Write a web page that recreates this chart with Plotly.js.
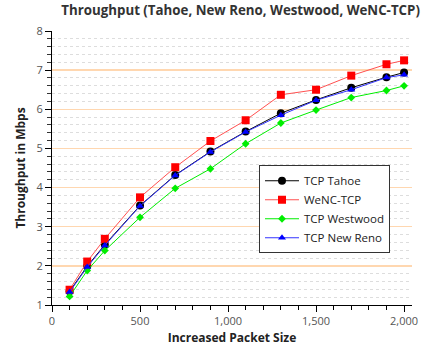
<!DOCTYPE html>
<html>
<head>
<meta charset="utf-8">
<script src="https://cdn.plot.ly/plotly-3.0.1.min.js"></script>
<style>html,body{margin:0;padding:0;background:#fff;}#chart{width:432px;height:356px;}</style>
</head>
<body>
<div id="chart"></div>
<script>
var packetSizes = [100, 200, 300, 500, 700, 900, 1100, 1300, 1500, 1700, 1900, 2000];
var tahoe    = [1.35, 1.99, 2.54, 3.54, 4.32, 4.92, 5.43, 5.90, 6.24, 6.55, 6.82, 6.94];
var wenc     = [1.39, 2.11, 2.69, 3.75, 4.52, 5.19, 5.72, 6.37, 6.50, 6.86, 7.15, 7.25];
var westwood = [1.22, 1.88, 2.39, 3.24, 3.98, 4.48, 5.12, 5.65, 5.98, 6.30, 6.48, 6.60];
var newreno  = [1.33, 1.97, 2.52, 3.53, 4.31, 4.91, 5.42, 5.85, 6.23, 6.50, 6.81, 6.88];
var seriesNames = ["TCP Tahoe", "WeNC-TCP", "TCP Westwood", "TCP New Reno"];
var xTickVals = [0, 500, 1000, 1500, 2000];
var xTickText = ["0", "500", "1,000", "1,500", "2,000"];

var font = "'Open Sans', 'DejaVu Sans', sans-serif";
var traces = [
  {x: packetSizes, y: tahoe, name: seriesNames[0], mode: "lines+markers",
   line: {color: "#000000", width: 1}, marker: {symbol: "circle", size: 8, color: "#000000"}},
  {x: packetSizes, y: wenc, name: seriesNames[1], mode: "lines+markers",
   line: {color: "#ff5050", width: 1}, marker: {symbol: "square", size: 8, color: "#ff0000"}},
  {x: packetSizes, y: westwood, name: seriesNames[2], mode: "lines+markers",
   line: {color: "#00ee00", width: 1}, marker: {symbol: "diamond", size: 6, color: "#00ee00"}},
  {x: packetSizes, y: newreno, name: seriesNames[3], mode: "lines+markers",
   line: {color: "#3333ff", width: 1}, marker: {symbol: "triangle-up", size: 7, color: "#0000ff"}}
];

var layout = {
  width: 432, height: 356,
  margin: {l: 52, r: 20, t: 31, b: 51},
  paper_bgcolor: "#fff", plot_bgcolor: "#fff",
  font: {family: font, size: 11, color: "#555"},
  title: {text: "Throughput (Tahoe, New Reno, Westwood, WeNC-TCP)", x: 0.557, xanchor: "center", y: 0.985, yanchor: "top",
          font: {family: font, size: 13.3, color: "#333", weight: "bold"}},
  xaxis: {
    range: [0, 2045], tickvals: xTickVals, ticktext: xTickText,
    showgrid: false, zeroline: false, showline: true, linecolor: "#000", linewidth: 1,
    ticks: "outside", ticklen: 6, tickcolor: "#000", tickfont: {size: 11, color: "#555"},
    minor: {dtick: 100, ticks: "outside", ticklen: 4, tickcolor: "#000", showgrid: false},
    title: {text: "Increased Packet Size", standoff: 6, font: {family: font, size: 12, color: "#222", weight: "bold"}}
  },
  yaxis: {
    range: [1, 8], dtick: 1, tick0: 0,
    showgrid: true, gridcolor: "#ffd7b0", gridwidth: 1.3, zeroline: false,
    showline: true, linecolor: "#000", linewidth: 1,
    ticks: "outside", ticklen: 6, tickcolor: "#000", tickfont: {size: 11, color: "#555"},
    minor: {dtick: 0.2, ticks: "outside", ticklen: 4, tickcolor: "#333", showgrid: true, gridcolor: "#dddddd", griddash: "dot", gridwidth: 1},
    title: {text: "Throughput in Mbps", standoff: 8, font: {family: font, size: 12, color: "#222", weight: "bold"}}
  },
  showlegend: true,
  legend: {x: 0.575, y: 0.51, xanchor: "left", yanchor: "top", bgcolor: "#fff", bordercolor: "#333", borderwidth: 1,
           font: {family: font, size: 11.5, color: "#222"}, tracegroupgap: 0, itemwidth: 34}
};

Plotly.newPlot("chart", traces, layout, {displayModeBar: false, staticPlot: true});
</script>
</body>
</html>
